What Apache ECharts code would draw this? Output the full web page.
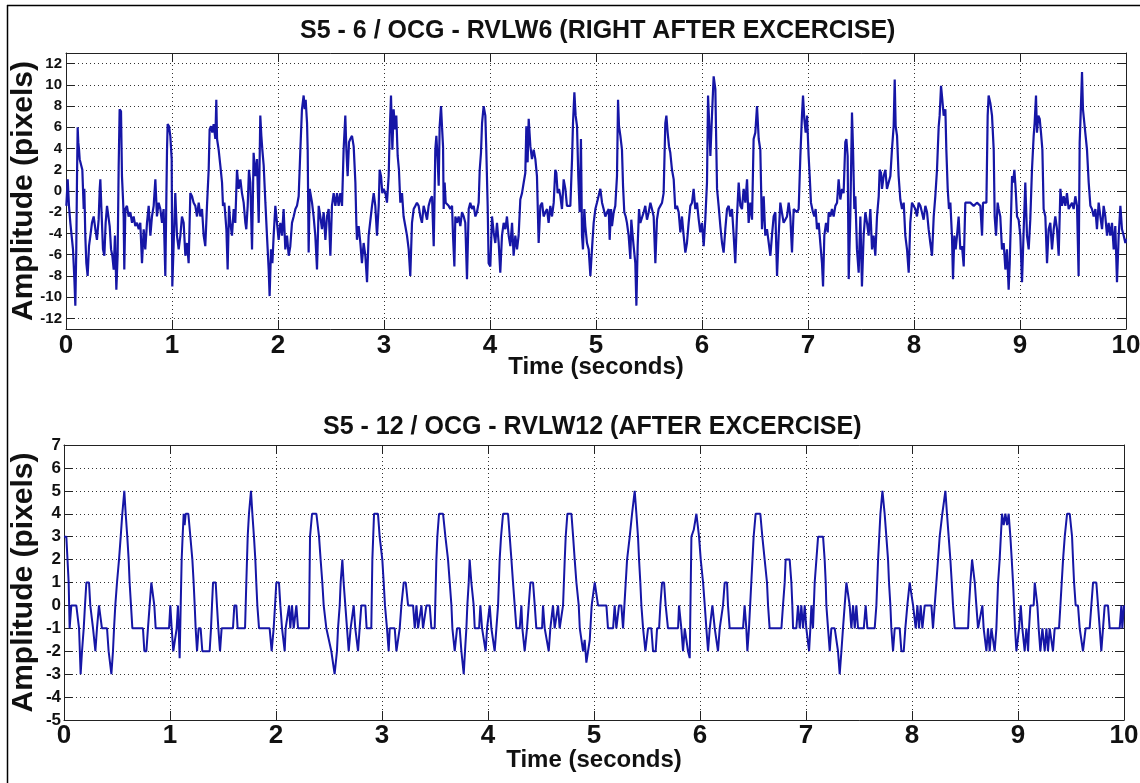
<!DOCTYPE html>
<html>
<head>
<meta charset="utf-8">
<script src="https://cdn.jsdelivr.net/npm/echarts@6/dist/echarts.min.js"></script>
<style>html,body{margin:0;padding:0;background:#fff}#c{width:1140px;height:783px}</style>
</head>
<body>
<div id="c"></div>
<script>
// ---------- texts & ticks ----------
const topTitle = 'S5 - 6 / OCG - RVLW6 (RIGHT AFTER EXCERCISE)';
const botTitle = 'S5 - 12 / OCG - RVLW12 (AFTER EXCERCISE)';
const xName = 'Time (seconds)';
const yName = 'Amplitude (pixels)';
const xTicks = [0,1,2,3,4,5,6,7,8,9,10];
const topYTicks = [-12,-10,-8,-6,-4,-2,0,2,4,6,8,10,12];
const botYTicks = [-5,-4,-3,-2,-1,0,1,2,3,4,5,6,7];

// ---------- top signal: [time (s), amplitude (px)] ----------
const topSignal = [
[0.003,-1.4],[0.016,1.1],[0.028,-1.4],[0.041,-3.0],[0.053,-4.2],[0.066,-5.5],[0.072,-6.8],[0.079,-8.3],[0.088,-10.8],[0.097,-5.5],
[0.104,1.4],[0.110,6.0],[0.116,4.6],[0.123,3.9],[0.129,3.0],[0.142,3.0],[0.154,2.0],[0.167,-1.7],[0.173,0.2],[0.182,-4.2],
[0.192,-6.8],[0.204,-8.0],[0.217,-5.2],[0.230,-4.2],[0.245,-3.0],[0.261,-2.4],[0.277,-3.6],[0.292,-4.6],[0.308,-2.7],[0.318,0.2],
[0.324,1.1],[0.333,-1.4],[0.349,-5.5],[0.362,-6.1],[0.374,-3.0],[0.387,-1.4],[0.403,-1.4],[0.412,-3.3],[0.425,-5.5],[0.437,-6.1],
[0.450,-7.4],[0.462,-4.2],[0.475,-9.3],[0.487,-6.1],[0.497,2.4],[0.506,7.7],[0.519,7.5],[0.528,1.4],[0.538,-0.8],[0.544,-2.4],
[0.550,-7.4],[0.560,-1.7],[0.575,-1.4],[0.591,-2.4],[0.607,-2.0],[0.623,-3.0],[0.638,-2.4],[0.654,-3.3],[0.670,-3.0],[0.686,-3.6],
[0.701,-3.0],[0.717,-6.8],[0.733,-3.6],[0.748,-5.5],[0.764,-3.0],[0.780,-1.4],[0.796,-4.2],[0.811,-2.4],[0.827,-1.4],[0.843,1.1],
[0.858,-2.4],[0.874,-1.1],[0.890,-1.7],[0.906,-3.0],[0.921,-1.7],[0.937,-8.0],[0.947,-0.5],[0.953,3.9],[0.959,6.3],[0.972,6.1],
[0.984,5.2],[0.997,3.0],[1.003,-9.0],[1.016,-4.9],[1.031,-0.2],[1.047,-4.2],[1.063,-5.5],[1.079,-4.2],[1.094,-2.4],[1.110,-3.0],
[1.126,-6.1],[1.142,-4.9],[1.157,-6.8],[1.173,-0.2],[1.189,-0.5],[1.204,-1.1],[1.220,-1.4],[1.236,-2.4],[1.252,-1.1],[1.267,-2.4],
[1.283,-1.7],[1.299,-4.2],[1.314,-5.2],[1.330,-1.4],[1.346,2.0],[1.355,5.8],[1.368,6.1],[1.380,5.5],[1.393,6.3],[1.409,4.9],
[1.418,8.6],[1.425,4.9],[1.440,3.9],[1.456,2.4],[1.472,0.8],[1.481,-1.4],[1.494,-1.1],[1.513,-3.6],[1.525,-7.4],[1.538,-1.4],
[1.550,-3.0],[1.566,-4.2],[1.582,-1.7],[1.597,-3.0],[1.613,2.0],[1.629,0.2],[1.645,1.1],[1.660,-0.2],[1.676,-1.1],[1.692,-3.0],
[1.701,-3.6],[1.714,-1.4],[1.726,2.0],[1.739,0.8],[1.755,-5.5],[1.770,3.6],[1.786,1.4],[1.802,3.0],[1.818,-3.0],[1.833,7.1],
[1.843,5.2],[1.852,3.9],[1.865,2.4],[1.881,-1.1],[1.896,-4.2],[1.912,-7.4],[1.921,-9.9],[1.934,-5.5],[1.947,-6.8],[1.959,-4.2],
[1.975,-1.4],[1.990,-1.4],[2.006,-4.6],[2.022,-3.0],[2.038,-4.2],[2.053,-1.7],[2.069,-5.5],[2.085,-4.2],[2.101,-6.1],[2.116,-5.2],
[2.132,-3.0],[2.148,-2.4],[2.164,-1.7],[2.179,-1.4],[2.195,-0.5],[2.211,3.9],[2.226,7.7],[2.242,9.0],[2.252,7.7],[2.261,8.6],
[2.274,6.4],[2.280,3.9],[2.289,-5.8],[2.299,0.2],[2.321,-1.1],[2.336,-2.4],[2.352,-4.2],[2.368,-7.4],[2.384,-1.4],[2.399,-2.4],
[2.415,-3.6],[2.431,-2.0],[2.447,-4.6],[2.462,-2.4],[2.478,-1.7],[2.494,-6.1],[2.509,-1.4],[2.525,-0.2],[2.541,-1.4],[2.557,-0.2],
[2.572,-1.4],[2.588,-0.2],[2.604,-1.4],[2.619,3.9],[2.635,7.1],[2.645,3.9],[2.657,1.4],[2.670,4.6],[2.682,4.9],[2.698,5.2],
[2.714,4.2],[2.730,0.8],[2.739,-3.0],[2.745,-4.6],[2.761,-3.3],[2.777,-4.9],[2.792,-6.8],[2.808,-4.9],[2.824,-6.1],[2.840,-8.6],
[2.855,-4.2],[2.871,-4.2],[2.887,-1.4],[2.903,-0.2],[2.918,-1.4],[2.934,-4.2],[2.950,-1.4],[2.959,2.0],[2.972,1.4],[2.984,-0.2],
[2.997,0.2],[3.013,-0.2],[3.028,-1.1],[3.044,1.4],[3.053,5.2],[3.066,9.0],[3.079,3.9],[3.091,7.7],[3.104,5.8],[3.116,7.1],
[3.129,3.3],[3.141,2.0],[3.154,-1.1],[3.170,-0.2],[3.185,-2.4],[3.201,-3.3],[3.217,-4.2],[3.233,-5.5],[3.248,-8.0],[3.264,-3.0],
[3.280,-1.7],[3.296,-1.4],[3.311,-1.1],[3.327,-1.4],[3.343,-2.4],[3.358,-3.0],[3.374,-1.4],[3.390,-2.0],[3.406,-2.7],[3.421,-1.4],
[3.437,-0.8],[3.453,-0.5],[3.469,-5.2],[3.475,-1.7],[3.484,3.9],[3.494,5.2],[3.506,3.0],[3.516,0.5],[3.525,6.1],[3.538,8.0],
[3.547,6.1],[3.557,4.2],[3.563,-1.7],[3.572,0.8],[3.582,-1.1],[3.594,-1.1],[3.610,-1.4],[3.626,-1.7],[3.642,-1.4],[3.651,-4.2],
[3.664,-7.1],[3.673,-2.4],[3.689,-3.0],[3.704,-2.4],[3.720,-3.3],[3.736,-2.0],[3.752,-2.4],[3.767,-3.0],[3.783,-8.3],[3.799,-1.7],
[3.814,-1.1],[3.830,-1.7],[3.846,-1.4],[3.862,-2.4],[3.877,-2.0],[3.893,-1.1],[3.903,2.0],[3.915,3.6],[3.925,6.4],[3.940,8.0],
[3.956,7.1],[3.965,3.9],[3.978,-1.4],[3.987,-6.8],[4.003,-7.1],[4.019,-2.4],[4.035,-3.9],[4.050,-4.9],[4.066,-3.0],[4.082,-4.9],
[4.097,-7.7],[4.113,-4.2],[4.129,-3.0],[4.145,-3.6],[4.160,-2.4],[4.176,-4.2],[4.192,-5.2],[4.208,-3.0],[4.223,-6.1],[4.239,-4.2],
[4.255,-5.5],[4.270,-4.2],[4.286,-0.8],[4.302,-0.2],[4.318,0.8],[4.333,1.7],[4.343,6.1],[4.355,2.7],[4.365,6.8],[4.381,4.2],
[4.396,3.0],[4.412,3.9],[4.428,3.0],[4.443,1.4],[4.459,-4.9],[4.475,-1.4],[4.491,-1.1],[4.506,-2.4],[4.522,-2.0],[4.538,-1.7],
[4.553,-3.0],[4.569,-1.4],[4.585,-2.4],[4.601,-1.1],[4.616,2.0],[4.626,1.7],[4.638,-0.2],[4.651,0.2],[4.664,-0.5],[4.679,-1.7],
[4.695,1.1],[4.711,0.2],[4.726,-1.4],[4.742,-1.4],[4.758,-1.4],[4.774,3.0],[4.783,6.4],[4.796,9.3],[4.808,7.1],[4.821,6.1],
[4.833,1.4],[4.846,-2.0],[4.858,4.9],[4.868,-4.2],[4.877,-5.5],[4.890,-1.7],[4.899,-3.3],[4.915,-4.9],[4.931,-5.5],[4.947,-8.0],
[4.962,-5.5],[4.978,-3.0],[4.994,-1.7],[5.009,-1.1],[5.025,-1.1],[5.041,0.2],[5.057,-1.1],[5.072,-1.7],[5.088,-2.4],[5.104,-2.0],
[5.120,-1.7],[5.129,-4.6],[5.142,-1.7],[5.151,-3.3],[5.167,-2.0],[5.182,-1.4],[5.198,1.4],[5.208,8.6],[5.217,6.1],[5.230,5.2],
[5.245,3.9],[5.255,0.5],[5.267,-2.0],[5.280,-2.4],[5.292,-3.0],[5.308,-4.2],[5.324,-6.4],[5.333,-2.7],[5.346,-4.2],[5.355,-5.2],
[5.371,-6.8],[5.381,-10.8],[5.393,-5.2],[5.406,-1.7],[5.418,-3.0],[5.434,-3.0],[5.450,-2.0],[5.465,-1.4],[5.481,-2.7],[5.497,-2.0],
[5.513,-1.1],[5.528,-1.7],[5.544,-2.4],[5.560,-6.8],[5.575,-2.7],[5.591,-1.7],[5.607,-1.4],[5.623,-1.1],[5.638,-0.2],[5.654,6.4],
[5.664,7.1],[5.676,5.5],[5.689,4.2],[5.701,3.6],[5.717,2.0],[5.733,1.1],[5.748,-1.7],[5.764,-1.4],[5.780,-2.0],[5.796,-3.9],
[5.811,-2.4],[5.827,-4.2],[5.843,-5.8],[5.858,-4.9],[5.874,-3.0],[5.890,-1.4],[5.906,-1.1],[5.921,0.2],[5.937,-1.7],[5.953,-1.1],
[5.969,-2.7],[5.984,-3.9],[6.000,-3.0],[6.016,-5.2],[6.031,-2.7],[6.047,0.8],[6.057,9.0],[6.069,6.1],[6.079,3.3],[6.094,7.1],
[6.110,10.8],[6.126,9.6],[6.135,4.2],[6.142,0.2],[6.157,-1.4],[6.173,-3.3],[6.189,-4.9],[6.204,-5.8],[6.220,-3.6],[6.236,-1.7],
[6.252,-1.4],[6.267,-2.4],[6.283,-1.7],[6.299,-4.2],[6.314,-6.8],[6.330,-2.4],[6.346,0.8],[6.362,-1.4],[6.377,-1.7],[6.393,0.2],
[6.409,-1.1],[6.425,1.1],[6.440,-3.0],[6.456,-1.1],[6.472,-2.7],[6.487,4.9],[6.503,5.5],[6.519,8.0],[6.535,4.9],[6.550,3.9],
[6.566,-3.6],[6.582,-0.5],[6.597,-4.2],[6.613,-3.6],[6.645,-6.1],[6.660,-4.2],[6.676,-2.4],[6.692,-2.0],[6.708,-8.0],[6.723,-4.2],
[6.739,-1.1],[6.755,-1.1],[6.770,-3.0],[6.786,-3.0],[6.802,-2.4],[6.818,-1.1],[6.833,-2.4],[6.849,-5.8],[6.865,-1.7],[6.881,-1.7],
[6.896,-2.0],[6.912,-1.7],[6.928,3.3],[6.943,7.1],[6.953,9.0],[6.965,6.8],[6.978,5.5],[6.991,7.1],[7.006,3.3],[7.016,1.4],
[7.028,-1.1],[7.047,-2.0],[7.060,-2.4],[7.072,-1.7],[7.085,-3.6],[7.101,-3.0],[7.116,-4.9],[7.132,-6.8],[7.142,-9.0],[7.154,-4.2],
[7.170,-3.0],[7.186,-3.9],[7.195,-2.0],[7.211,-2.4],[7.226,-1.7],[7.242,-2.4],[7.258,-1.4],[7.274,-1.1],[7.289,1.1],[7.305,-0.8],
[7.321,0.2],[7.336,-0.2],[7.352,4.6],[7.362,4.9],[7.374,3.3],[7.384,-8.3],[7.399,-2.4],[7.415,7.4],[7.425,3.9],[7.437,-1.7],
[7.447,-0.5],[7.462,-5.5],[7.478,-7.7],[7.494,-2.4],[7.509,-9.0],[7.525,-4.2],[7.541,-2.0],[7.557,-3.0],[7.572,-4.2],[7.588,-1.7],
[7.604,-5.5],[7.619,-4.2],[7.635,-6.1],[7.651,-2.4],[7.667,-0.5],[7.676,2.0],[7.689,1.7],[7.698,0.2],[7.714,1.4],[7.730,2.0],
[7.745,0.2],[7.761,0.8],[7.777,1.4],[7.792,3.9],[7.808,6.1],[7.818,10.5],[7.827,6.1],[7.840,5.2],[7.855,1.4],[7.871,-0.8],
[7.887,-1.7],[7.903,-1.1],[7.918,-4.2],[7.934,-5.5],[7.950,-7.7],[7.965,-3.0],[7.981,-1.1],[7.997,-1.1],[8.013,-1.7],[8.028,-2.4],
[8.044,-1.1],[8.060,-1.4],[8.075,-2.0],[8.091,-2.7],[8.107,-1.4],[8.123,-2.0],[8.138,-3.6],[8.154,-4.9],[8.170,-6.1],[8.186,-2.4],
[8.201,-0.5],[8.217,2.0],[8.233,6.1],[8.242,7.1],[8.255,9.9],[8.267,8.6],[8.280,7.1],[8.296,7.7],[8.305,3.9],[8.318,0.2],
[8.330,-1.7],[8.343,-1.1],[8.358,-4.2],[8.368,-8.3],[8.381,-4.2],[8.393,-5.5],[8.406,-4.2],[8.421,-2.4],[8.437,-5.5],[8.453,-5.2],
[8.469,-7.1],[8.484,-1.1],[8.500,-1.1],[8.531,-1.1],[8.563,-1.4],[8.594,-1.1],[8.626,-1.4],[8.642,-4.2],[8.651,-1.1],[8.664,-1.1],
[8.683,-1.1],[8.695,7.1],[8.704,9.0],[8.720,8.3],[8.736,7.1],[8.752,3.9],[8.761,-2.4],[8.774,-4.2],[8.789,-1.1],[8.799,-1.7],
[8.814,-2.4],[8.830,-5.5],[8.846,-4.9],[8.862,-7.4],[8.877,-5.5],[8.893,-9.3],[8.903,-6.8],[8.915,-2.4],[8.925,1.4],[8.934,0.8],
[8.947,2.0],[8.959,0.2],[8.972,-2.4],[8.987,-2.7],[9.003,-4.2],[9.019,-8.6],[9.035,-3.6],[9.050,0.8],[9.066,-4.2],[9.082,-5.5],
[9.097,-2.7],[9.113,2.0],[9.129,5.2],[9.138,6.4],[9.151,9.0],[9.160,5.5],[9.173,7.1],[9.186,6.8],[9.198,5.5],[9.211,3.9],
[9.223,-1.7],[9.239,-2.4],[9.255,-6.8],[9.270,-3.6],[9.286,-3.0],[9.302,-5.5],[9.318,-3.6],[9.333,-2.4],[9.349,-3.6],[9.365,-6.1],
[9.381,0.2],[9.396,-1.4],[9.412,-0.5],[9.428,-1.4],[9.443,-0.2],[9.459,-1.7],[9.475,-1.4],[9.491,-1.1],[9.506,-1.7],[9.522,-0.5],
[9.538,-1.4],[9.553,-8.0],[9.563,4.6],[9.576,8.3],[9.585,11.2],[9.594,7.7],[9.607,6.4],[9.619,5.2],[9.632,3.9],[9.648,0.8],
[9.664,-1.4],[9.679,-1.7],[9.695,-2.4],[9.711,-1.7],[9.726,-3.6],[9.742,-1.1],[9.758,-2.4],[9.774,-3.6],[9.789,-1.4],[9.805,-2.4],
[9.821,-4.2],[9.836,-3.0],[9.852,-4.2],[9.868,-3.0],[9.884,-5.5],[9.899,-3.3],[9.915,-8.6],[9.931,-4.2],[9.947,-1.4],[9.962,-3.6],
[9.978,-4.2],[9.994,-4.9],[10.0,-4.5]
];

// ---------- bottom signal: [time (s), amplitude (px)] ----------
const botSignal = [
[0.000,3],[0.022,3],[0.044,1],[0.053,-1],[0.069,0],[0.116,0],[0.142,-1],[0.157,-3],[0.170,-2],[0.186,-1],[0.198,0],[0.211,1],[0.236,1],[0.248,0],
[0.274,-1],[0.296,-2],[0.311,-1],[0.330,0],[0.346,0],[0.358,-1],[0.406,-1],[0.421,-2],[0.447,-3],[0.462,-2],[0.472,-1],[0.484,0],[0.500,1],[0.519,2],
[0.535,3],[0.550,4],[0.569,5],[0.582,4],[0.597,3],[0.610,2],[0.619,1],[0.632,0],[0.645,-1],[0.745,-1],[0.758,-2],[0.777,-2],[0.792,-1],[0.808,0],
[0.824,1],[0.840,1],[0.852,0],[0.865,-1],[0.991,-1],[1.003,0],[1.016,-1],[1.031,-2],[1.047,-2],[1.063,-1],[1.075,0],[1.091,-2.3],[1.101,0],[1.110,2],
[1.119,3],[1.129,4],[1.138,3.5],[1.148,4],[1.173,4],[1.192,3],[1.211,2],[1.223,1],[1.233,0],[1.242,-1],[1.255,-2],[1.270,-1],[1.289,-1],[1.305,-2],
[1.374,-2],[1.387,-1],[1.396,0],[1.406,1],[1.431,1],[1.443,0],[1.456,-1],[1.472,-2],[1.487,-1],[1.594,-1],[1.607,0],[1.626,0],[1.638,-1],[1.708,-1],
[1.720,1],[1.733,3],[1.745,4],[1.764,5],[1.777,4],[1.792,3],[1.805,2],[1.814,1],[1.824,0],[1.840,-1],[1.940,-1],[1.959,-2],[1.978,-1],[1.991,0],
[2.003,1],[2.028,1],[2.041,0],[2.057,-1],[2.082,-2],[2.091,-1],[2.123,0],[2.135,-1],[2.151,0],[2.167,-1],[2.192,0],[2.208,-1],[2.311,-1],[2.321,3],
[2.340,4],[2.381,4],[2.406,3],[2.421,2],[2.437,1],[2.450,0],[2.475,-1],[2.522,-2],[2.553,-3],[2.575,-2],[2.585,-1],[2.601,0],[2.610,1],[2.626,2],
[2.638,1],[2.654,0],[2.670,-1],[2.686,-2],[2.704,-1],[2.733,0],[2.748,-1],[2.774,-2],[2.789,-1],[2.805,0],[2.843,0],[2.855,-1],[2.899,-1],[2.909,2],
[2.925,4],[2.962,4],[2.978,3],[3.003,2],[3.016,1],[3.028,0],[3.047,-1],[3.063,-2],[3.073,-1],[3.120,-1],[3.136,-2],[3.167,-1],[3.183,0],[3.205,1],
[3.224,1],[3.246,0],[3.293,0],[3.309,-1],[3.325,0],[3.340,-1],[3.372,0],[3.387,-1],[3.419,0],[3.450,0],[3.466,-1],[3.497,-1],[3.513,2],[3.522,3],
[3.538,4],[3.576,4],[3.598,3],[3.623,2],[3.639,1],[3.655,0],[3.664,-1],[3.686,-2],[3.708,-1],[3.733,-1],[3.749,-2],[3.771,-3],[3.783,-2],[3.796,-1],
[3.805,0],[3.818,1],[3.827,2],[3.843,1],[3.865,0],[3.875,-1],[3.916,-1],[3.928,0],[3.944,-1],[3.978,-2],[3.991,-1],[4.016,0],[4.032,-1],[4.063,-2],
[4.079,-1],[4.095,0],[4.110,2],[4.123,3],[4.142,4],[4.189,4],[4.205,3],[4.221,2],[4.236,1],[4.252,0],[4.268,-1],[4.299,-1],[4.315,0],[4.324,-1],
[4.346,-2],[4.368,-1],[4.384,0],[4.400,1],[4.425,1],[4.441,0],[4.456,-1],[4.510,-1],[4.519,0],[4.535,-1],[4.573,-2],[4.588,-1],[4.613,0],[4.629,-1],
[4.661,0],[4.676,-1],[4.692,-1],[4.708,0],[4.724,2],[4.733,3],[4.749,4],[4.787,4],[4.803,3],[4.818,2],[4.834,1],[4.856,0],[4.866,-1],[4.881,-1],
[4.897,-2],[4.912,-1.5],[4.928,-2.5],[4.944,-2],[4.960,-1.5],[4.978,0],[5.007,1],[5.022,1],[5.038,0],[5.117,0],[5.132,-1],[5.180,-1],[5.195,0],[5.211,-1],
[5.236,0],[5.258,0],[5.274,-1],[5.290,-1],[5.312,2],[5.337,3],[5.359,4],[5.384,5],[5.400,4],[5.415,3],[5.425,2],[5.437,1],[5.447,0],[5.463,-1],
[5.485,-2],[5.510,-1],[5.541,-1],[5.557,-2],[5.582,-2],[5.595,-1],[5.614,-1],[5.626,0],[5.642,1],[5.661,1],[5.676,0],[5.698,-1],[5.793,-1],[5.802,0],
[5.824,-1],[5.840,-2],[5.856,-1],[5.887,-2],[5.903,-2.3],[5.919,3],[5.941,3.3],[5.966,4],[5.991,3],[6.007,2],[6.029,1],[6.045,0],[6.060,-1],[6.076,-2],
[6.092,-1],[6.107,-1],[6.117,0],[6.139,-1],[6.170,-2],[6.186,-1],[6.217,0],[6.233,1],[6.255,1],[6.264,0],[6.280,-1],[6.406,-1],[6.421,0],[6.437,-1],
[6.447,-2],[6.462,-1],[6.484,1],[6.506,3],[6.525,4],[6.569,4],[6.588,3],[6.610,2],[6.632,1],[6.642,0],[6.657,-1],[6.768,-1],[6.783,0],[6.799,1],
[6.808,2],[6.846,2],[6.862,1],[6.871,0],[6.878,-1],[6.909,-1],[6.925,0],[6.941,-1],[6.956,0],[6.972,-1],[6.988,0],[7.003,-1],[7.029,-2],[7.041,-1],
[7.051,0],[7.066,-1],[7.082,1],[7.098,2],[7.114,3],[7.161,3],[7.176,2],[7.186,1],[7.192,0],[7.208,-1],[7.224,-2],[7.239,-1],[7.271,-1],[7.302,-2],
[7.318,-3],[7.334,-2],[7.349,-1],[7.365,0],[7.381,1],[7.397,1],[7.412,0],[7.428,-1],[7.444,0],[7.460,-1],[7.475,0],[7.491,-1],[7.545,-1],[7.563,0],
[7.579,-1],[7.648,-1],[7.664,0],[7.680,2],[7.702,4],[7.721,5],[7.742,4],[7.758,3],[7.774,2],[7.783,1],[7.796,0],[7.805,-1],[7.821,-2],[7.837,-1],
[7.884,-1],[7.900,-2],[7.922,-2],[7.937,-1],[7.956,0],[7.978,1],[7.994,1],[8.010,0],[8.035,-1],[8.051,0],[8.066,-1],[8.082,0],[8.098,-1],[8.120,0],
[8.183,0],[8.198,-1],[8.214,0],[8.230,1],[8.261,3],[8.286,4],[8.315,5],[8.330,4],[8.346,3],[8.362,2],[8.375,1],[8.387,0],[8.403,-1],[8.529,-1],
[8.538,0],[8.551,1],[8.567,2],[8.592,1],[8.607,0],[8.623,-1],[8.664,0],[8.676,-1],[8.702,-2],[8.717,-1],[8.733,-2],[8.749,-1],[8.780,-2],[8.796,-1],
[8.812,1],[8.827,2],[8.849,4],[8.865,3.5],[8.881,4],[8.897,3.5],[8.912,4],[8.928,3],[8.941,2],[8.953,1],[8.963,0],[8.972,-1],[8.985,-2],[9.010,-1],
[9.026,0],[9.041,-1],[9.063,-2],[9.079,-1],[9.095,-2],[9.104,-1],[9.117,0],[9.148,0],[9.158,1],[9.183,0],[9.195,-1],[9.211,-2],[9.230,-1],[9.252,-2],
[9.268,-1],[9.283,-2],[9.299,-1],[9.330,-2],[9.346,-1],[9.387,-1],[9.400,0],[9.425,2],[9.441,3],[9.463,4],[9.488,4],[9.510,3],[9.519,2],[9.529,1],
[9.544,0],[9.566,0],[9.582,-1],[9.613,-2],[9.638,-1],[9.676,-1],[9.692,0],[9.708,1],[9.739,1],[9.755,0],[9.771,-1],[9.786,-2],[9.802,-1],[9.818,0],
[9.849,0],[9.865,-1],[9.959,-1],[9.975,0],[9.984,-1],[10.0,0]
];

// ---------- styling ----------
const FONT = "'Liberation Sans', Arial, Helvetica, sans-serif";
const LINE_COLOR = '#1616a6';
const FRAME = '#222';
const GRIDC = '#333';

function xAxes(gi, nameGap, margin) {
  return [
    { gridIndex: gi, type: 'value', min: 0, max: 10, interval: 1, position: 'bottom',
      axisLine: { show: true, onZero: false, lineStyle: { color: FRAME, width: 1 } },
      axisTick: { show: true, inside: true, length: 9, lineStyle: { color: FRAME } },
      axisLabel: { show: true, margin: margin, fontSize: 26, fontWeight: 'bold', color: '#111', fontFamily: FONT },
      splitLine: { show: true, lineStyle: { color: GRIDC, type: [1, 3], width: 1 } },
      name: xName, nameLocation: 'middle', nameGap: nameGap, nameMoveOverlap: false,
      nameTextStyle: { fontSize: 24, fontWeight: 'bold', color: '#111', fontFamily: FONT } },
    { gridIndex: gi, type: 'value', min: 0, max: 10, interval: 1, position: 'top',
      axisLine: { show: true, onZero: false, lineStyle: { color: FRAME, width: 1 } },
      axisTick: { show: true, inside: true, length: 9, lineStyle: { color: FRAME } },
      axisLabel: { show: false }, splitLine: { show: false } }
  ];
}
function yAxes(gi, mn, mx, ticks, labelSize, nameGap, margin) {
  return [
    { gridIndex: gi, type: 'value', min: mn, max: mx, position: 'left',
      axisLine: { show: true, onZero: false, lineStyle: { color: FRAME, width: 1 } },
      axisTick: { show: true, inside: true, length: 9, lineStyle: { color: FRAME }, customValues: ticks },
      axisLabel: { show: true, margin: margin, fontSize: labelSize, fontWeight: 'bold', color: '#111', fontFamily: FONT,
                   customValues: ticks },
      splitLine: { show: true, lineStyle: { color: GRIDC, type: [1, 3], width: 1 } },
      name: yName, nameLocation: 'middle', nameGap: nameGap, nameMoveOverlap: false,
      nameTextStyle: { fontSize: 30, fontWeight: 'bold', color: '#111', fontFamily: FONT } },
    { gridIndex: gi, type: 'value', min: mn, max: mx, position: 'right',
      axisLine: { show: true, onZero: false, lineStyle: { color: FRAME, width: 1 } },
      axisTick: { show: true, inside: true, length: 9, lineStyle: { color: FRAME }, customValues: ticks },
      axisLabel: { show: false }, splitLine: { show: false } }
  ];
}

const chart = echarts.init(document.getElementById('c'), null, { renderer: 'canvas' });
chart.setOption({
  animation: false,
  backgroundColor: '#fff',
  title: [
    { text: topTitle, left: 295, top: 14, textStyle: { fontSize: 25, fontWeight: 'bold', color: '#111', fontFamily: FONT } },
    { text: botTitle, left: 318, top: 410, textStyle: { fontSize: 25, fontWeight: 'bold', color: '#111', fontFamily: FONT } }
  ],
  grid: [
    { left: 66, right: 14, top: 53, height: 276, outerBoundsMode: 'none', containLabel: false },
    { left: 64, right: 16, top: 445, height: 275, outerBoundsMode: 'none', containLabel: false }
  ],
  xAxis: [].concat(xAxes(0, 26, 4), xAxes(1, 28, 3)),
  yAxis: [].concat(yAxes(0, -13, 13, topYTicks, 15, 27, 4), yAxes(1, -5, 7, botYTicks, 17, 25, 3)),
  series: [
    { type: 'line', xAxisIndex: 0, yAxisIndex: 0, data: topSignal, showSymbol: false, symbol: 'none',
      lineStyle: { color: LINE_COLOR, width: 2.2 }, clip: true },
    { type: 'line', xAxisIndex: 2, yAxisIndex: 2, data: botSignal, showSymbol: false, symbol: 'none',
      lineStyle: { color: LINE_COLOR, width: 2 }, clip: true }
  ],
  graphic: [
    { type: 'line', shape: { x1: 7, y1: 5.5, x2: 1140, y2: 5.5 }, style: { stroke: '#000', lineWidth: 1.5 } },
    { type: 'line', shape: { x1: 7.5, y1: 5, x2: 7.5, y2: 783 }, style: { stroke: '#000', lineWidth: 1.5 } }
  ]
});
</script>
</body>
</html>
